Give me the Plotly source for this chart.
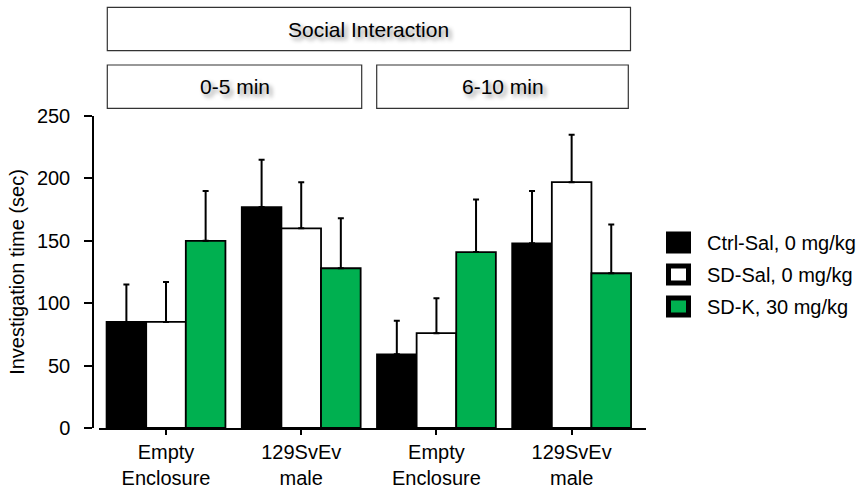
import plotly.graph_objects as go

# ---- data ----
categories = ["Empty<br>Enclosure", "129SvEv<br>male", "Empty<br>Enclosure", "129SvEv<br>male"]
series_names = ["Ctrl-Sal, 0 mg/kg", "SD-Sal, 0 mg/kg", "SD-K, 30 mg/kg"]
ctrl_sal = [85, 177, 59, 148]
ctrl_sal_sem = [30, 38, 27, 42]
sd_sal = [85, 160, 76, 197]
sd_sal_sem = [32, 37, 28, 38]
sd_k = [150, 128, 141, 124]
sd_k_sem = [40, 40, 42, 39]
time_windows = ["0-5 min", "6-10 min"]
header = "Social Interaction"
y_ticks = [0, 50, 100, 150, 200, 250]
y_title = "Investigation time (sec)"

# ---- styles ----
colors = ["#000000", "#FFFFFF", "#00B050"]
FONT = "Liberation Sans, Arial, sans-serif"
W_FIG, H_FIG = 863, 491
L, R, T, B = 93, 217, 116, 63
W = W_FIG - L - R
H = H_FIG - T - B


def px_x(x):
    return (x - L) / W


def px_y(y):
    return (T + H - y) / H


xpos = list(range(len(categories)))
values = [ctrl_sal, sd_sal, sd_k]
sems = [ctrl_sal_sem, sd_sal_sem, sd_k_sem]

fig = go.Figure()
for name, vals, sem, col in zip(series_names, values, sems, colors):
    fig.add_trace(go.Bar(
        x=xpos, y=vals, name=name,
        marker=dict(color=col, line=dict(color="black", width=1.8)),
        error_y=dict(type="data", array=sem, arrayminus=[0] * len(sem),
                     symmetric=False, color="black", thickness=2, width=3),
        showlegend=False,
    ))

shapes = []
annotations = []

# header boxes
boxes = [
    (107.3, 630.5, 7.3, 50.7, header),
    (107.3, 361.7, 65, 108.3, time_windows[0]),
    (376.7, 628.3, 65, 108.3, time_windows[1]),
]
for x0, x1, y0, y1, txt in boxes:
    shapes.append(dict(type="rect", xref="paper", yref="paper",
                       x0=px_x(x0), x1=px_x(x1), y0=px_y(y1), y1=px_y(y0),
                       line=dict(color="#333333", width=1.2), fillcolor="white",
                       layer="above"))
    annotations.append(dict(xref="paper", yref="paper",
                            x=px_x((x0 + x1) / 2), y=px_y((y0 + y1) / 2),
                            text=txt, showarrow=False,
                            xanchor="center", yanchor="middle",
                            font=dict(family=FONT, size=21, color="black",
                                      shadow="3px 3px 4px rgba(0,0,0,0.45)")))

# manual legend
legend_rows = [242.5, 274.5, 306.5]
for name, col, cy in zip(series_names, colors, legend_rows):
    shapes.append(dict(type="rect", xref="paper", yref="paper",
                       x0=px_x(668.5), x1=px_x(688.5),
                       y0=px_y(cy + 8.5), y1=px_y(cy - 8.5),
                       line=dict(color="black", width=5), fillcolor=col))
    annotations.append(dict(xref="paper", yref="paper",
                            x=px_x(705), y=px_y(cy), text=name,
                            showarrow=False, xanchor="left", yanchor="middle",
                            font=dict(family=FONT, size=20, color="black")))

fig.update_layout(
    width=W_FIG, height=H_FIG,
    margin=dict(l=L, r=R, t=T, b=B, autoexpand=False),
    paper_bgcolor="white", plot_bgcolor="white",
    barmode="group", bargap=0.121, bargroupgap=0,
    font=dict(family=FONT, size=20, color="black"),
    shapes=shapes, annotations=annotations,
    showlegend=False,
)
fig.update_xaxes(
    domain=[px_x(99), 1], range=[-0.4956, 3.55],
    tickvals=xpos, ticktext=categories,
    showline=True, linecolor="black", linewidth=1.5,
    ticks="outside", ticklen=5, tickwidth=1.5, tickcolor="black",
    showgrid=False, zeroline=False,
    tickfont=dict(family=FONT, size=20, color="black"),
)
fig.update_yaxes(
    anchor="free", position=0, range=[0, 250], tickvals=y_ticks,
    showline=True, linecolor="black", linewidth=1.5,
    ticks="outside", ticklen=8, tickwidth=1.5, tickcolor="black",
    ticklabelstandoff=10,
    showgrid=False, zeroline=False,
    title=dict(text=y_title, standoff=6, font=dict(family=FONT, size=20, color="black")),
    tickfont=dict(family=FONT, size=20, color="black"),
)

fig.write_html("out.html", config={"displayModeBar": False},
               post_script="document.body.style.margin='0';")
